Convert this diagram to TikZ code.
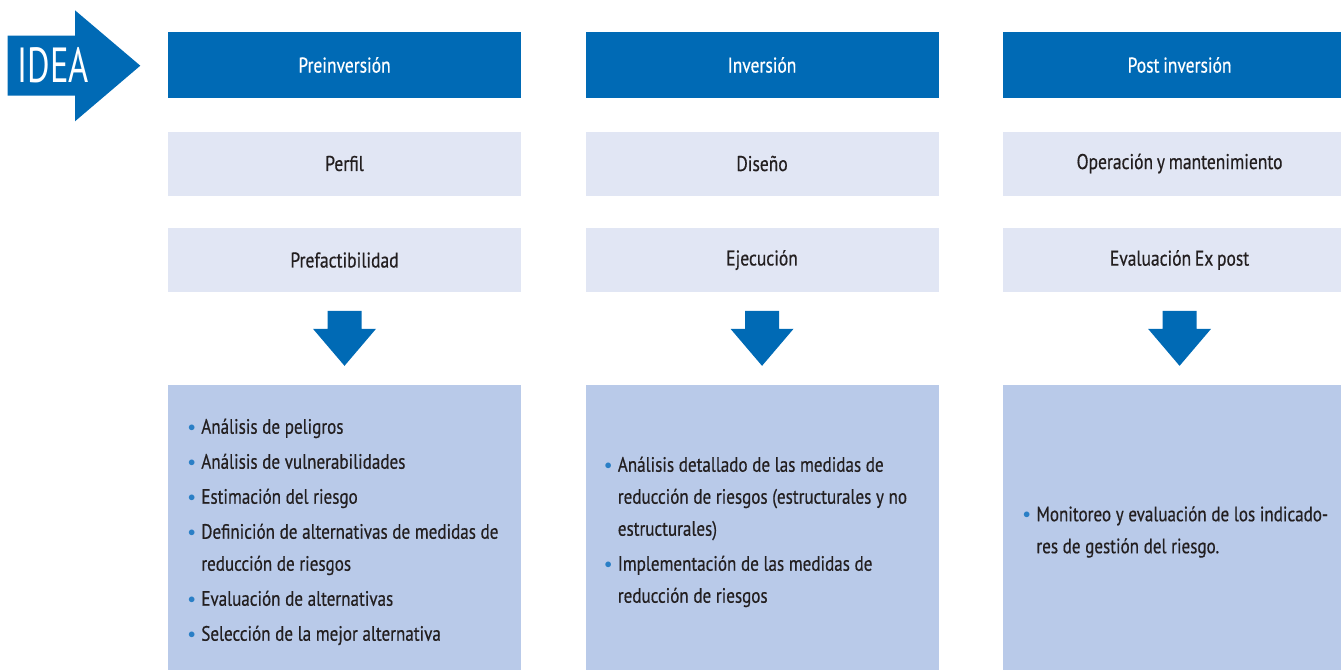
\documentclass[tikz,border=0pt]{standalone}
\usepackage{fontspec}
\setmainfont{PT Sans}[FakeStretch=0.82,WordSpace=0.8,FakeBold=0.5]
\newfontfamily\ideafont{PT Sans}[FakeStretch=0.7]
\usetikzlibrary{positioning,calc}
\definecolor{phaseblue}{HTML}{006AB5}
\definecolor{stagefill}{HTML}{E1E6F4}
\definecolor{detailfill}{HTML}{B9CAE9}
\definecolor{dotblue}{HTML}{2A7FC6}
\definecolor{inkdark}{HTML}{231F20}
% one bullet item, the dot hangs in the left margin
\newcommand{\itm}[1]{\par\leftskip=10pt\spaceskip=3.5pt plus 1pt minus 0.5pt\noindent\llap{\makebox[10pt][l]{\raisebox{2pt}{\textcolor{dotblue}{$\scriptstyle\bullet$}}}}#1\par}
\begin{document}
\begin{tikzpicture}[x=0.75pt,y=-0.75pt,
  every node/.style={inner sep=0pt,text=inkdark},
  phase/.style={fill=phaseblue,text=white,minimum width=264.75pt,minimum height=49.5pt,font=\fontsize{16}{20}\selectfont},
  stage/.style={fill=stagefill,minimum width=264.75pt,minimum height=48pt,font=\fontsize{16}{20}\selectfont},
  detail/.style={fill=detailfill,minimum width=264.75pt,minimum height=219pt},
  bullets/.style={anchor=west,yshift=6.5pt,text width=240pt,font=\fontsize{15.6}{24}\selectfont\raggedright\setlength{\parskip}{2.25pt}},
  blockdown/.pic={\fill[phaseblue] (-17,-27.5) -- (17,-27.5) -- (17,-9.5) -- (31.5,-9.5) -- (0,27.5) -- (-31.5,-9.5) -- (-17,-9.5) -- cycle;}]
\clip (0,0) rectangle (1341,670);
% start arrow
\fill[phaseblue] (7.7,35.7) -- (75,35.7) -- (75,10.3) -- (140.3,65.7) -- (75,121.3) -- (75,95.7) -- (7.7,95.7) -- cycle;
\node[text=white,font=\ideafont\fontsize{37}{37}\selectfont] (idea) at (53.5,65.5) {IDEA};
% phases
\node[phase] (pre) at (344.5,65) {Preinversión};
\node[phase,right=48pt of pre] (inv) {Inversión};
\node[phase,right=48pt of inv] (post) {Post inversión};
% stages
\node[stage,below=24.75pt of pre] (perfil) {Perfil};
\node[stage,below=24pt of perfil] (prefact) {Prefactibilidad};
\node[stage,below=24.75pt of inv] (diseno) {Diseño};
\node[stage,below=24pt of diseno] (ejec) {Ejecución};
\node[stage,below=24.75pt of post] (operac) {Operación y mantenimiento};
\node[stage,below=24pt of operac] (expost) {Evaluación Ex post};
% detail boxes
\node[detail,below=69pt of prefact] (det1) {};
\node[detail,below=69pt of ejec] (det2) {};
\node[detail,below=69pt of expost] (det3) {};
\pic at ($(prefact.south)!0.5!(det1.north)$) {blockdown};
\pic at ($(ejec.south)!0.5!(det2.north)$) {blockdown};
\pic at ($(expost.south)!0.5!(det3.north)$) {blockdown};
% bullet lists
\node[bullets] (list1) at ([xshift=15pt]det1.west) {%
  \itm{Análisis de peligros}
  \itm{Análisis de vulnerabilidades}
  \itm{Estimación del riesgo}
  \itm{Definición de alternativas de medidas de\\reducción de riesgos}
  \itm{Evaluación de alternativas}
  \itm{Selección de la mejor alternativa}};
\node[bullets] (list2) at ([xshift=14.25pt]det2.west) {%
  \itm{Análisis detallado de las medidas de\\reducción de riesgos (estructurales y no\\estructurales)}
  \itm{Implementación de las medidas de\\reducción de riesgos}};
\node[bullets] (list3) at ([xshift=15pt]det3.west) {%
  \itm{Monitoreo y evaluación de los indicado-\\res de gestión del riesgo.}};
\end{tikzpicture}
\end{document}
